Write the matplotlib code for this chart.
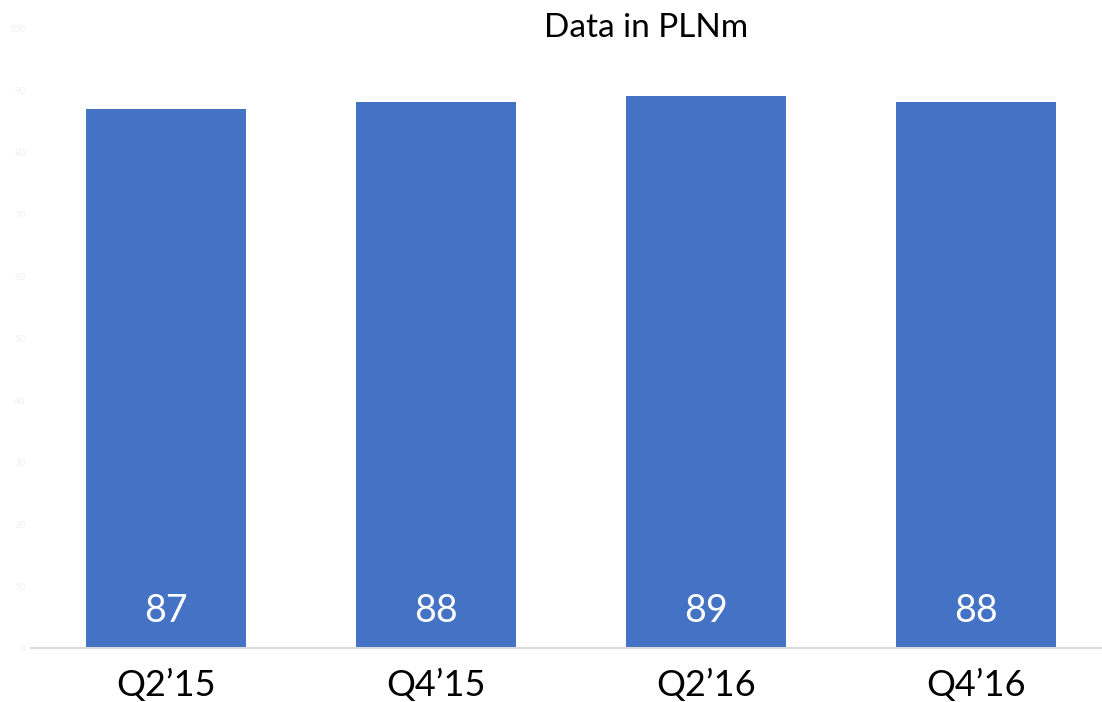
import matplotlib.pyplot as plt

quarters = ['Q2’15', 'Q4’15', 'Q2’16', 'Q4’16']
values = [87, 88, 89, 88]
y_ticks = [0, 10, 20, 30, 40, 50, 60, 70, 80, 90, 100]

plt.rcParams['font.family'] = ['Lato', 'DejaVu Sans']

fig = plt.figure(figsize=(11.02, 7.02), dpi=100)
ax = fig.add_axes([31 / 1102, 54 / 702, 1071 / 1102, 620 / 702])

x = range(len(quarters))
bars = ax.bar(x, values, width=0.593, color='#4472C4')

# value labels sit at the foot of each bar
for i, v in enumerate(values):
    ax.text(i, 6, str(v), ha='center', va='center', color='white', fontsize=27)

ax.set_xlim(-0.5, 3.467)
ax.set_ylim(0, 100)
ax.set_xticks(list(x))
ax.set_xticklabels(quarters, fontsize=26)
ax.set_yticks(y_ticks)
ax.set_yticklabels([str(t) for t in y_ticks], fontsize=7, color='#f0f0f0')
ax.tick_params(axis='both', length=0)
ax.tick_params(axis='x', pad=15)
ax.tick_params(axis='y', pad=4)

for side in ['top', 'right', 'left']:
    ax.spines[side].set_visible(False)
ax.spines['bottom'].set_color('#d9d9d9')
ax.spines['bottom'].set_linewidth(1.5)

fig.text(646 / 1102, 1 - 28 / 702, 'Data in PLNm', ha='center', va='center', fontsize=24)

fig.savefig('out.png', dpi=100)
